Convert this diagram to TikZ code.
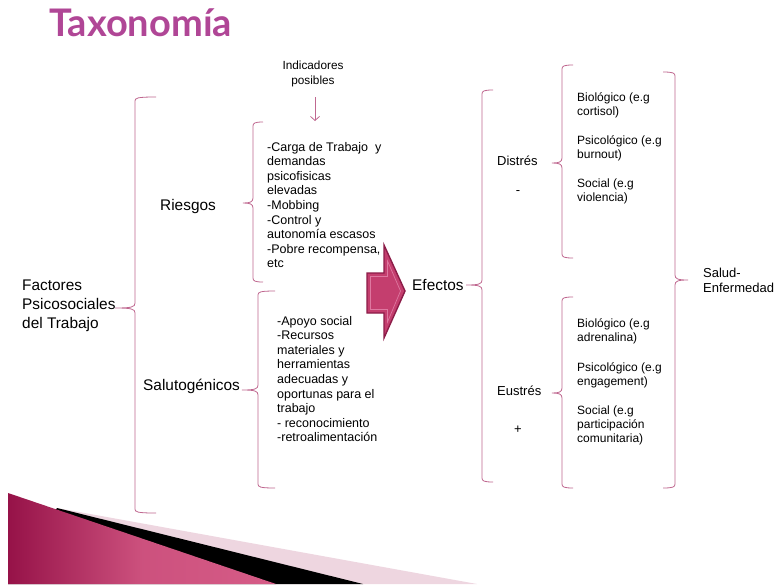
\documentclass[tikz,border=0pt]{standalone}
\usepackage{fontspec}
\setmainfont{Liberation Sans}
\newfontfamily\titlefont{Lato}
\usetikzlibrary{arrows.meta}
\definecolor{brk}{RGB}{192,104,144}
\definecolor{ttl}{RGB}{176,70,150}
\definecolor{arrfill}{RGB}{196,62,110}
\definecolor{arrdark}{RGB}{140,28,72}
\definecolor{arrlight}{RGB}{222,120,160}
\definecolor{magdark}{RGB}{150,18,72}
\definecolor{maglight}{RGB}{214,92,135}
\definecolor{palepink}{RGB}{238,214,224}
\tikzset{
  brkline/.style={draw=brk, line width=0.8pt},
  big/.style={font=\fontsize{15.4}{19}\selectfont, inner sep=0pt, anchor=base west, align=left},
  mid/.style={font=\fontsize{12.5}{14.6}\selectfont, inner sep=0pt, anchor=base west, align=left},
  rgt/.style={font=\fontsize{12}{14.4}\selectfont, inner sep=0pt, anchor=base west, align=left},
  lab/.style={font=\fontsize{13}{15}\selectfont, inner sep=0pt, anchor=base west, align=left},
}
% left bracket: x, top, mid, bottom, hook, tick
\newcommand\myBrL[6]{%
  \draw[brkline] (#1+#5,#2) .. controls (#1+2,#2) and (#1,#2+1) .. (#1,#2+4)
    -- (#1,#3-5) .. controls (#1,#3-1) and (#1-3,#3) .. (#1-#6,#3)
    .. controls (#1-3,#3) and (#1,#3+1) .. (#1,#3+5)
    -- (#1,#4-4) .. controls (#1,#4-1) and (#1+2,#4) .. (#1+#5,#4);}
% right bracket
\newcommand\myBrR[6]{%
  \draw[brkline] (#1-#5,#2) .. controls (#1-2,#2) and (#1,#2+1) .. (#1,#2+4)
    -- (#1,#3-5) .. controls (#1,#3-1) and (#1+3,#3) .. (#1+#6,#3)
    .. controls (#1+3,#3) and (#1,#3+1) .. (#1,#3+5)
    -- (#1,#4-4) .. controls (#1,#4-1) and (#1-2,#4) .. (#1-#5,#4);}
\begin{document}
\begin{tikzpicture}[x=1pt,y=-1pt]
\path[use as bounding box, fill=white] (0,0) rectangle (776,584);

% bottom decoration
\fill[palepink] (57,508) -- (477,584) -- (8,584) -- cycle;
\fill[black] (57,508) -- (363,584) -- (8,584) -- cycle;
\shade[left color=magdark, right color=maglight, middle color=maglight!85!magdark] (8,493) -- (276,584) -- (8,584) -- cycle;

% title
\node[font=\titlefont\fontsize{38}{42}\selectfont\bfseries, text=ttl, inner sep=0pt, anchor=base west] (title) at (49,36) {Taxonomía};

% indicators (base = last line baseline)
\node[font=\fontsize{11.8}{15}\selectfont, inner sep=0pt, align=center, anchor=base] (ind) at (313,84) {Indicadores\\posibles};
\coordinate (indstart) at (315,97);
\coordinate (indend) at (315,121);
\draw[draw=brk, line width=0.8pt, -{Straight Barb[length=4pt,width=9pt]}] (indstart) -- (indend);

% left labels
\node[big] (fac) at (22,328) {Factores\\Psicosociales\\del Trabajo};
\node[big] (rie) at (160,210) {Riesgos};
\node[big] (sal) at (143,390) {Salutogénicos};

\myBrL{135}{97}{308}{513}{21}{20}
\myBrL{253}{122}{203}{282}{10}{10}
\myBrL{258}{291}{390}{488}{17}{16}

\node[mid] (rielist) at (267,267.8) {-Carga de Trabajo \ y\\demandas\\psicofisicas\\elevadas\\-Mobbing\\-Control y\\autonomía escasos\\-Pobre recompensa,\\etc};
\node[mid] (sallist) at (277,441.8) {-Apoyo social\\-Recursos\\materiales y\\herramientas\\adecuadas y\\oportunas para el\\trabajo\\- reconocimiento\\-retroalimentación};

% block arrow
\filldraw[fill=arrfill, draw=arrdark, line width=1.4pt, line join=miter]
  (367,273) -- (384,273) -- (384,245) -- (405,291) -- (384,338) -- (384,313) -- (367,313) -- cycle;
\draw[arrlight, line width=0.7pt, line join=miter]
  (370.5,276.5) -- (387.5,276.5) -- (387.5,261) -- (400.5,291) -- (387.5,322) -- (387.5,309.5) -- (370.5,309.5) -- cycle;

\node[big] (efe) at (412,290) {Efectos};
\myBrL{482}{90}{285}{482}{11}{16}

\node[lab] (dis) at (497,165) {Distrés};
\node[lab, anchor=center] (minus) at (518,193) {-};
\node[lab] (eus) at (497,395) {Eustrés};
\node[lab, anchor=center] (plus) at (518,430) {+};

\myBrL{562}{65}{163}{258}{11}{10}
\myBrL{562}{297}{393}{488}{11}{10}

\node[rgt] (d1) at (577,115.4) {Biológico (e.g\\cortisol)};
\node[rgt] (d2) at (577,158.4) {Psicológico (e.g\\burnout)};
\node[rgt] (d3) at (577,201.4) {Social (e.g\\violencia)};

\node[rgt] (e1) at (577,341.4) {Biológico (e.g\\adrenalina)};
\node[rgt] (e2) at (577,385.4) {Psicológico (e.g\\engagement)};
\node[rgt] (e3) at (577,442.8) {Social (e.g\\participación\\comunitaria)};

\myBrR{675}{72}{280}{488}{12}{13}
\node[lab] (salud) at (703,292) {Salud-\\Enfermedad};
\end{tikzpicture}
\end{document}
